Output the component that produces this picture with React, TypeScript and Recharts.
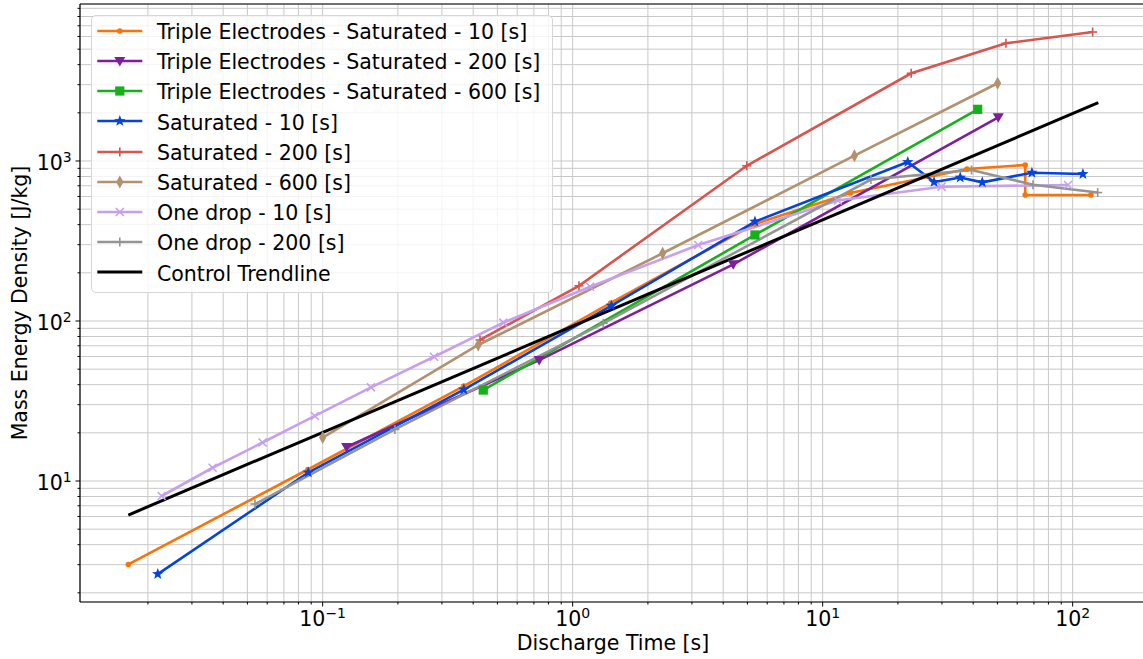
import {
  LineChart,
  Line,
  XAxis,
  YAxis,
  CartesianGrid,
  Legend,
  Label,
  ReferenceLine,
} from "recharts";

const FONT = '"DejaVu Sans", sans-serif';

// discharge time [s] and mass energy density [J/kg]
const tripleSat10Time = [0.0167, 0.0873, 0.367, 1.42, 5.36, 12.9, 37.8, 64.6, 64.6, 118.4];
const tripleSat10Energy = [3.01, 11.8, 39.2, 129.6, 404, 631, 891, 944, 613, 613];

const tripleSat200Time = [0.1247, 0.735, 4.39, 50.4];
const tripleSat200Energy = [16.3, 57.0, 226, 1875];

const tripleSat600Time = [0.439, 5.36, 41.7];
const tripleSat600Energy = [37.0, 345, 2104];

const sat10Time = [0.0219, 0.0876, 0.367, 1.43, 5.36, 21.9, 27.9, 35.5, 43.5, 68.7, 109.9];
const sat10Energy = [2.62, 11.3, 37.3, 124.6, 418, 985, 739, 788, 736, 845, 829];

const sat200Time = [0.426, 1.06, 4.97, 22.6, 54.1, 120.2];
const sat200Energy = [76.1, 166, 934, 3532, 5441, 6400];

const sat600Time = [0.1, 0.419, 2.29, 13.4, 50.1];
const sat600Energy = [18.7, 70.8, 265, 1080, 3060];

const drop10Time = [0.0227, 0.0363, 0.0575, 0.0931, 0.156, 0.279, 0.528, 1.174, 3.18, 11.5, 29.9, 95.8];
const drop10Energy = [8.06, 12.1, 17.4, 25.5, 38.5, 59.8, 97.6, 163.8, 298.5, 566, 691, 708];

const drop200Time = [0.0536, 0.1945, 1.326, 15.6, 39.4, 69.4, 125.9];
const drop200Energy = [7.18, 21.0, 96.7, 766, 879, 710, 635];

const trendTime = [0.0167, 126.6];
const trendEnergy = [6.13, 2313];

const xMajorTicks = [0.1, 1, 10, 100];
const xMajorLabels = ["−1", "0", "1", "2"];
const xMinorTicks = [
  0.02, 0.03, 0.04, 0.05, 0.06, 0.07, 0.08, 0.09,
  0.2, 0.3, 0.4, 0.5, 0.6, 0.7, 0.8, 0.9,
  2, 3, 4, 5, 6, 7, 8, 9,
  20, 30, 40, 50, 60, 70, 80, 90,
];
const yMajorTicks = [10, 100, 1000];
const yMajorLabels = ["1", "2", "3"];
const yMinorTicks = [
  2, 3, 4, 5, 6, 7, 8, 9,
  20, 30, 40, 50, 60, 70, 80, 90,
  200, 300, 400, 500, 600, 700, 800, 900,
  2000, 3000, 4000, 5000, 6000, 7000, 8000, 9000,
];

const xDomain = [0.0107, 196.5];
const yDomain = [1.753, 9577];

const toPoints = (time: number[], energy: number[]) =>
  time.map((x, i) => ({ x, y: energy[i] }));

const series = [
  { name: "Triple Electrodes - Saturated - 10 [s]", color: "#f97306", marker: "point", data: toPoints(tripleSat10Time, tripleSat10Energy) },
  { name: "Triple Electrodes - Saturated - 200 [s]", color: "#7e1e9c", marker: "triangle", data: toPoints(tripleSat200Time, tripleSat200Energy) },
  { name: "Triple Electrodes - Saturated - 600 [s]", color: "#15b01a", marker: "square", data: toPoints(tripleSat600Time, tripleSat600Energy) },
  { name: "Saturated - 10 [s]", color: "#0343df", marker: "star", data: toPoints(sat10Time, sat10Energy) },
  { name: "Saturated - 200 [s]", color: "#d9544d", marker: "plus", data: toPoints(sat200Time, sat200Energy) },
  { name: "Saturated - 600 [s]", color: "#b1916e", marker: "diamond", data: toPoints(sat600Time, sat600Energy) },
  { name: "One drop - 10 [s]", color: "#c79fef", marker: "x", data: toPoints(drop10Time, drop10Energy) },
  { name: "One drop - 200 [s]", color: "#929591", marker: "plus", data: toPoints(drop200Time, drop200Energy) },
  { name: "Control Trendline", color: "#000000", marker: "", data: toPoints(trendTime, trendEnergy) },
];

function Marker({ shape, cx, cy, color }: { shape: string; cx: number; cy: number; color: string }) {
  if (shape === "point") return <circle cx={cx} cy={cy} r={2.8} fill={color} />;
  if (shape === "triangle")
    return <polygon points={`${cx - 5.5},${cy - 4} ${cx + 5.5},${cy - 4} ${cx},${cy + 5.5}`} fill={color} />;
  if (shape === "square") return <rect x={cx - 4.6} y={cy - 4.6} width={9.2} height={9.2} fill={color} />;
  if (shape === "diamond")
    return <polygon points={`${cx},${cy - 6.5} ${cx + 3.6},${cy} ${cx},${cy + 6.5} ${cx - 3.6},${cy}`} fill={color} />;
  if (shape === "star") {
    const pts: string[] = [];
    for (let i = 0; i < 10; i++) {
      const r = i % 2 === 0 ? 6 : 2.5;
      const a = -Math.PI / 2 + (i * Math.PI) / 5;
      pts.push(`${cx + r * Math.cos(a)},${cy + r * Math.sin(a)}`);
    }
    return <polygon points={pts.join(" ")} fill={color} />;
  }
  if (shape === "plus")
    return (
      <g stroke={color} strokeWidth={1.6}>
        <line x1={cx - 4.5} x2={cx + 4.5} y1={cy} y2={cy} />
        <line x1={cx} x2={cx} y1={cy - 4.5} y2={cy + 4.5} />
      </g>
    );
  if (shape === "x")
    return (
      <g stroke={color} strokeWidth={1.6}>
        <line x1={cx - 4} x2={cx + 4} y1={cy - 4} y2={cy + 4} />
        <line x1={cx - 4} x2={cx + 4} y1={cy + 4} y2={cy - 4} />
      </g>
    );
  return null;
}

const findIndex = (list: number[], v: number) =>
  list.findIndex((t) => Math.abs(t - v) < t * 1e-6);

function XTick({ x, y, payload }: any) {
  const idx = findIndex(xMajorTicks, payload.value);
  const major = idx >= 0;
  return (
    <g>
      <line x1={x} x2={x} y1={y} y2={y + (major ? 4.5 : 2.5)} stroke="#000" strokeWidth={1} />
      {major && (
        <text x={x} y={y + 23.7} textAnchor="middle" fontFamily={FONT} fontSize={20.5} fill="#000">
          10
          <tspan dy={-7.5} fontSize={14}>{xMajorLabels[idx]}</tspan>
        </text>
      )}
    </g>
  );
}

function YTick({ x, y, payload }: any) {
  const idx = findIndex(yMajorTicks, payload.value);
  const major = idx >= 0;
  return (
    <g>
      <line x1={x} x2={x - (major ? 4.5 : 2.5)} y1={y} y2={y} stroke="#000" strokeWidth={1} />
      {major && (
        <text x={x - 8.3} y={y + 9} textAnchor="end" fontFamily={FONT} fontSize={20.5} fill="#000">
          10
          <tspan dy={-8} fontSize={14}>{yMajorLabels[idx]}</tspan>
        </text>
      )}
    </g>
  );
}

const renderLegend = () => (
  <div
    style={{
      boxSizing: "border-box",
      width: 462,
      height: 278,
      border: "1px solid #d6d6d6",
      borderRadius: 5,
      background: "rgba(255,255,255,0.8)",
      fontFamily: FONT,
      fontSize: 20.5,
      color: "#000",
    }}
  >
    {series.map((s) => (
      <div key={s.name} style={{ height: 30.2, display: "flex", alignItems: "center" }}>
        <svg width={65} height={30} style={{ flex: "none" }}>
          <line x1={5.3} x2={50.3} y1={15} y2={15} stroke={s.color} strokeWidth={s.marker ? 2.6 : 3} />
          <Marker shape={s.marker} cx={27.8} cy={15} color={s.color} />
        </svg>
        <span style={{ whiteSpace: "nowrap", lineHeight: 1, position: "relative", top: 1.5 }}>{s.name}</span>
      </div>
    ))}
  </div>
);

export default function App() {
  return (
    <div
      style={{
        position: "absolute",
        left: 0,
        top: 0,
        width: 1143,
        height: 659,
        overflow: "hidden",
        background: "#fff",
        fontFamily: FONT,
      }}
    >
      <LineChart width={1150} height={659} margin={{ top: 4, right: 4, bottom: 0, left: 0 }}>
        <CartesianGrid stroke="#c8c8c8" strokeWidth={1} />
        <XAxis
          dataKey="x"
          type="number"
          scale="log"
          domain={xDomain}
          allowDataOverflow
          ticks={[...xMinorTicks, ...xMajorTicks].sort((a, b) => a - b)}
          interval={0}
          tick={<XTick />}
          tickLine={false}
          tickSize={0}
          tickMargin={0}
          axisLine={{ stroke: "#000", strokeWidth: 1.2 }}
          height={57}
        >
          <Label
            content={({ viewBox }: any) => (
              <text
                x={viewBox.x + viewBox.width / 2}
                y={viewBox.y + 48}
                textAnchor="middle"
                fontFamily={FONT}
                fontSize={20.5}
                fill="#000"
              >
                Discharge Time [s]
              </text>
            )}
          />
        </XAxis>
        <YAxis
          dataKey="y"
          type="number"
          scale="log"
          domain={yDomain}
          allowDataOverflow
          ticks={[...yMinorTicks, ...yMajorTicks].sort((a, b) => a - b)}
          interval={0}
          tick={<YTick />}
          tickLine={false}
          tickSize={0}
          tickMargin={0}
          axisLine={{ stroke: "#000", strokeWidth: 1.2 }}
          width={80}
        >
          <Label
            content={({ viewBox }: any) => {
              const cy = viewBox.y + viewBox.height / 2;
              return (
                <text
                  x={26.5}
                  y={cy}
                  transform={`rotate(-90, 26.5, ${cy})`}
                  textAnchor="middle"
                  fontFamily={FONT}
                  fontSize={20.5}
                  fill="#000"
                >
                  Mass Energy Density [J/kg]
                </text>
              );
            }}
          />
        </YAxis>
        <ReferenceLine y={yDomain[1]} stroke="#000" strokeWidth={1.2} />
        {series.map((s) => (
          <Line
            key={s.name}
            data={s.data}
            dataKey="y"
            name={s.name}
            type="linear"
            stroke={s.color}
            strokeWidth={s.marker ? 2.6 : 3}
            dot={
              s.marker
                ? (p: any) => <Marker key={`${s.name}-${p.index}`} shape={s.marker} cx={p.cx} cy={p.cy} color={s.color} />
                : false
            }
            activeDot={false}
            isAnimationActive={false}
          />
        ))}
        <Legend
          layout="horizontal"
          verticalAlign="middle"
          align="center"
          content={renderLegend}
          wrapperStyle={{ left: 91, top: 14.7, width: 462, height: 278 }}
        />
      </LineChart>
    </div>
  );
}
